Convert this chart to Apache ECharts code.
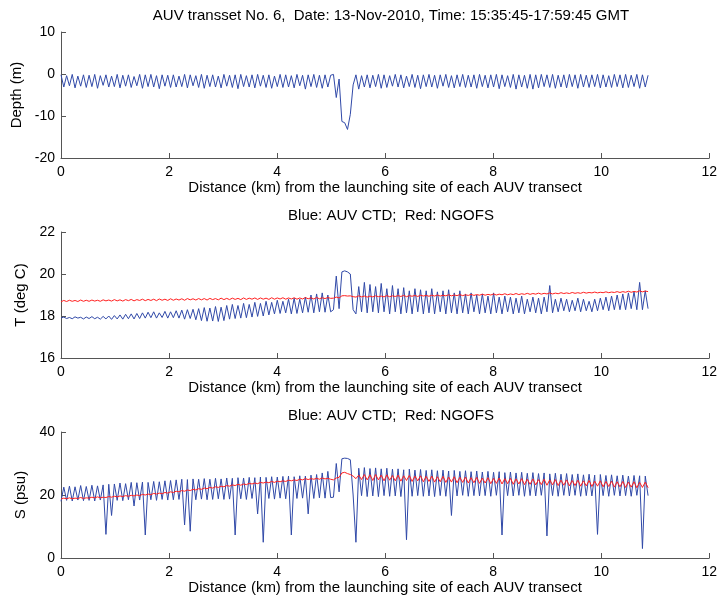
<!DOCTYPE html>
<html><head><meta charset="utf-8">
<script src="https://cdn.jsdelivr.net/npm/echarts@6/dist/echarts.min.js"></script>
<style>html,body{margin:0;padding:0;background:#fff}#c{width:720px;height:598px}</style>
</head><body><div id="c"></div>
<script>
// Turning-point distances along the transect (km)
const dist = [
0,.052,.104,.156,.208,.26,.312,.364,.416,.468,
.52,.572,.624,.676,.728,.78,.832,.884,.936,.988,
1.04,1.092,1.144,1.196,1.248,1.3,1.352,1.404,1.456,1.508,
1.56,1.612,1.664,1.716,1.768,1.82,1.872,1.924,1.976,2.028,
2.08,2.132,2.184,2.236,2.288,2.34,2.392,2.444,2.496,2.548,
2.6,2.652,2.704,2.756,2.808,2.86,2.912,2.964,3.016,3.068,
3.12,3.172,3.224,3.276,3.328,3.38,3.432,3.484,3.536,3.588,
3.64,3.692,3.744,3.796,3.848,3.9,3.952,4.004,4.056,4.108,
4.16,4.212,4.264,4.316,4.368,4.42,4.472,4.524,4.576,4.628,
4.68,4.732,4.784,4.836,4.888,4.94,4.992,5.044,5.096,5.148,
5.2,5.252,5.304,5.356,5.408,5.46,5.512,5.564,5.616,5.668,
5.72,5.772,5.824,5.876,5.928,5.98,6.032,6.084,6.136,6.188,
6.24,6.292,6.344,6.396,6.448,6.5,6.552,6.604,6.656,6.708,
6.76,6.812,6.864,6.916,6.968,7.02,7.072,7.124,7.176,7.228,
7.28,7.332,7.384,7.436,7.488,7.54,7.592,7.644,7.696,7.748,
7.8,7.852,7.904,7.956,8.008,8.06,8.112,8.164,8.216,8.268,
8.32,8.372,8.424,8.476,8.528,8.58,8.632,8.684,8.736,8.788,
8.84,8.892,8.944,8.996,9.048,9.1,9.152,9.204,9.256,9.308,
9.36,9.412,9.464,9.516,9.568,9.62,9.672,9.724,9.776,9.828,
9.88,9.932,9.984,10.036,10.088,10.14,10.192,10.244,10.296,10.348,
10.4,10.452,10.504,10.556,10.608,10.66,10.712,10.764,10.816,10.868];

// AUV depth (m)
const depth = [
-0.2,-3.1,-0.4,-2.8,-0.1,-3.3,-0.5,-2.9,-0.2,-3.2,
-0.3,-3.0,-0.1,-3.4,-0.4,-2.7,-0.2,-3.1,-0.5,-3.0,
-0.1,-3.3,-0.3,-2.9,-0.2,-3.2,-0.6,-2.8,-0.1,-3.4,
-0.2,-3.0,-0.1,-3.1,-0.4,-3.5,-0.2,-2.9,-0.3,-3.2,
-0.2,-3.1,-0.5,-3.0,-0.1,-3.3,-0.2,-2.8,-0.4,-3.2,
-0.1,-3.4,-0.3,-3.0,-0.2,-3.1,-0.5,-3.3,-0.1,-2.9,
-0.3,-3.2,-0.2,-3.5,-0.1,-3.0,-0.4,-3.1,-0.2,-3.3,
-0.1,-2.9,-0.3,-3.2,-0.2,-3.4,-0.5,-3.0,-0.1,-3.2,
-0.2,-3.1,-0.4,-3.3,-0.1,-2.8,-0.3,-3.6,-0.2,-3.0,
-0.1,-3.2,-0.3,-3.4,-0.2,-3.1,-0.3,-0.1,-5.6,-1.2,
-11.3,-11.6,-13.2,-9.6,-2.6,-0.2,-3.6,-0.4,-3.1,-0.2,
-3.3,-0.3,-3.0,-0.1,-3.4,-0.2,-3.2,-0.4,-2.9,-0.1,
-3.1,-0.2,-3.3,-0.5,-3.0,-0.1,-3.2,-0.3,-3.5,-0.2,
-3.0,-0.1,-3.1,-0.3,-3.4,-0.2,-2.9,-0.1,-3.2,-0.4,
-3.3,-0.2,-3.0,-0.1,-3.2,-0.3,-3.1,-0.2,-3.4,-0.1,
-3.0,-0.3,-3.3,-0.2,-3.1,-0.1,-3.5,-0.2,-3.0,-0.4,
-3.2,-0.1,-3.6,-0.2,-3.1,-0.3,-3.4,-0.1,-3.6,-0.2,
-3.3,-0.1,-3.0,-0.2,-3.2,-0.1,-3.4,-0.3,-3.1,-0.2,
-3.3,-0.1,-3.0,-0.2,-3.4,-0.1,-3.1,-0.3,-3.2,-0.2,
-3.0,-0.1,-3.3,-0.2,-3.1,-0.4,-3.2,-0.1,-3.0,-0.2,
-3.3,-0.1,-3.2,-0.3,-3.0,-0.1,-3.4,-0.2,-3.1,-0.3];

// Temperature, AUV CTD (deg C)
const tempAUV = [
17.9,17.95,17.88,17.93,17.87,17.96,17.9,17.94,17.86,17.95,
17.88,17.97,17.87,17.94,17.85,17.98,17.86,18.0,17.84,18.02,
17.86,18.05,17.85,18.08,17.87,18.1,17.86,18.12,17.88,18.15,
17.9,18.18,17.92,18.2,17.9,18.15,17.93,18.22,17.9,18.2,
17.92,18.25,17.9,18.28,17.85,18.3,17.88,18.32,17.82,18.35,
17.78,18.4,17.75,18.38,17.76,18.45,17.74,18.42,17.78,18.5,
17.85,18.55,17.88,18.5,17.9,18.6,17.92,18.55,17.95,18.65,
17.98,18.6,18.0,18.7,18.05,18.65,18.1,18.75,18.12,18.7,
18.15,18.8,18.1,18.85,18.12,18.8,18.15,18.9,18.18,19.0,
18.15,19.05,18.2,19.1,18.18,19.0,18.2,18.3,19.9,18.35,
20.1,20.15,20.1,20.0,18.3,18.1,19.4,18.2,19.6,18.15,
19.5,18.2,19.4,18.15,19.55,18.2,19.3,18.1,19.45,18.2,
19.3,18.1,19.35,18.15,19.2,18.1,19.3,18.2,19.25,18.1,
19.2,18.15,19.3,18.1,19.15,18.2,19.2,18.1,19.25,18.15,
19.1,18.1,19.2,18.15,19.05,18.1,19.1,18.2,19.0,18.1,
19.05,18.15,18.95,18.1,19.1,18.15,18.9,18.1,18.95,18.2,
18.9,18.1,18.85,18.15,18.95,18.1,18.8,18.2,18.9,18.15,
18.85,18.1,18.9,18.2,19.45,18.15,18.8,18.2,18.85,18.25,
18.8,18.2,18.75,18.25,18.85,18.2,18.8,18.25,18.7,18.2,
18.8,18.25,18.85,18.3,18.9,18.25,18.95,18.3,19.0,18.3,
19.05,18.3,19.1,18.35,19.15,18.3,19.6,18.3,19.2,18.35];

// Temperature, NGOFS model (deg C)
const tempNGOFS = [
18.68,18.74,18.69,18.75,18.7,18.74,18.69,18.76,18.7,18.75,
18.7,18.76,18.71,18.75,18.7,18.77,18.72,18.76,18.71,18.78,
18.72,18.77,18.71,18.78,18.73,18.79,18.72,18.78,18.74,18.8,
18.73,18.79,18.74,18.8,18.73,18.81,18.75,18.8,18.74,18.82,
18.75,18.81,18.76,18.82,18.75,18.83,18.77,18.82,18.76,18.83,
18.77,18.83,18.76,18.84,18.78,18.83,18.77,18.85,18.78,18.84,
18.78,18.85,18.79,18.84,18.78,18.86,18.79,18.85,18.8,18.86,
18.79,18.86,18.8,18.85,18.79,18.87,18.8,18.86,18.81,18.87,
18.8,18.86,18.81,18.87,18.8,18.86,18.81,18.88,18.82,18.87,
18.81,18.88,18.82,18.87,18.83,18.88,18.84,18.85,18.9,18.86,
18.96,18.97,18.95,18.96,18.92,18.9,18.96,18.91,18.95,18.9,
18.95,18.91,18.96,18.92,18.95,18.91,18.97,18.92,18.96,18.93,
18.97,18.93,18.98,18.92,18.97,18.94,18.98,18.93,18.99,18.95,
18.98,18.94,18.99,18.95,19.0,18.95,18.99,18.96,19.01,18.96,
19.0,18.97,19.02,18.97,19.01,18.98,19.03,18.98,19.02,18.99,
19.04,18.99,19.03,19.0,19.05,19.0,19.04,19.01,19.06,19.01,
19.05,19.02,19.07,19.02,19.06,19.03,19.08,19.03,19.07,19.04,
19.09,19.04,19.08,19.05,19.1,19.05,19.09,19.06,19.11,19.07,
19.1,19.07,19.12,19.08,19.11,19.08,19.13,19.09,19.12,19.1,
19.14,19.1,19.13,19.11,19.15,19.11,19.14,19.12,19.16,19.12,
19.16,19.13,19.18,19.13,19.17,19.14,19.2,19.15,19.19,19.16];

// Salinity, AUV CTD (psu)
const salAUV = [
18.0,22.5,18.3,22.8,18.1,22.6,18.4,23.0,18.2,22.7,
18.3,23.1,18.1,22.9,18.4,23.2,7.5,23.4,13.5,23.5,
18.3,23.8,18.2,23.6,18.5,24.0,16.5,23.9,18.4,24.1,
7.3,24.0,18.5,24.3,18.3,24.2,18.6,24.5,18.4,24.6,
18.5,24.8,18.6,25.0,10.5,24.9,8.5,25.1,18.5,25.0,
18.7,25.2,18.5,25.0,18.6,25.3,18.8,25.1,18.6,25.4,
18.7,25.3,7.3,25.5,18.8,25.4,18.6,25.6,18.9,25.5,
14.0,25.7,5.0,25.6,18.9,25.8,18.7,25.7,19.0,25.9,
18.8,26.0,7.3,25.8,18.9,26.1,19.0,26.0,14.0,26.3,
18.9,26.5,19.1,27.0,19.0,27.5,19.2,19.3,30.0,21.0,
31.5,31.7,31.6,31.2,20.0,5.0,28.5,19.8,28.7,19.5,
28.4,19.7,28.6,19.5,28.3,19.8,28.5,19.6,28.2,19.7,
28.3,19.5,28.0,5.8,28.2,19.6,27.9,19.8,28.1,19.6,
27.8,19.7,28.0,19.5,27.7,19.8,27.9,19.6,27.6,13.5,
27.8,19.7,27.5,19.9,27.7,19.6,27.4,19.8,27.6,19.7,
27.3,19.8,27.5,19.6,27.2,19.9,27.4,7.3,27.1,19.8,
27.3,19.7,27.0,19.9,27.2,19.6,26.9,19.8,27.1,19.7,
26.8,19.9,27.0,7.0,26.7,19.8,26.9,19.6,26.6,19.9,
26.8,19.7,26.5,19.9,26.7,19.6,26.4,19.8,26.6,19.7,
26.3,7.5,26.5,19.8,26.2,19.6,26.4,19.9,26.1,19.7,
26.3,19.8,26.0,19.6,26.2,19.9,26.1,3.0,26.0,19.8];

// Salinity, NGOFS model (psu)
const salNGOFS = [
18.7,19.0,18.8,19.1,18.8,19.0,18.9,19.2,18.9,19.1,
19.0,19.3,19.1,19.4,19.1,19.3,19.2,19.5,19.3,19.6,
19.4,19.7,19.5,19.8,19.6,19.9,19.7,20.0,19.8,20.2,
20.0,20.3,20.1,20.5,20.3,20.6,20.4,20.8,20.6,21.0,
20.8,21.2,21.0,21.4,21.2,21.6,21.4,21.8,21.6,22.0,
21.8,22.2,22.0,22.4,22.2,22.6,22.4,22.8,22.6,23.0,
22.8,23.2,23.0,23.4,23.1,23.5,23.3,23.7,23.5,23.8,
23.6,24.0,23.8,24.1,23.9,24.3,24.0,24.4,24.2,24.5,
24.3,24.7,24.5,24.8,24.6,25.0,24.8,25.2,24.9,25.2,
25.0,25.3,25.0,25.4,25.1,25.3,25.0,24.8,25.4,25.6,
27.0,27.2,26.8,26.5,26.0,25.2,26.3,24.9,26.5,24.8,
26.4,24.6,26.5,24.8,26.3,24.5,26.4,24.7,26.2,24.5,
26.3,24.4,26.1,24.6,26.2,24.3,26.0,24.5,26.1,24.2,
25.9,24.3,26.0,24.1,25.8,24.2,25.9,24.0,25.7,24.1,
25.8,23.9,25.6,24.0,25.7,23.8,25.5,23.9,25.6,23.7,
25.4,23.8,25.5,23.6,25.3,23.7,25.4,23.5,25.2,23.6,
25.3,23.4,25.1,23.5,25.2,23.3,25.0,23.4,25.1,23.2,
24.9,23.3,25.0,23.1,24.8,23.2,24.9,23.0,24.7,23.1,
24.8,22.9,24.6,23.0,24.7,22.8,24.5,22.9,24.6,22.7,
24.4,22.8,24.5,22.6,24.3,22.7,24.4,22.5,24.2,22.6,
24.3,22.4,24.1,22.5,24.2,22.3,24.0,22.4,24.1,22.3];

const xTicks = [0, 2, 4, 6, 8, 10, 12];
const titles = ['AUV transset No. 6,  Date: 13-Nov-2010, Time: 15:35:45-17:59:45 GMT',
                'Blue: AUV CTD;  Red: NGOFS', 'Blue: AUV CTD;  Red: NGOFS'];
const yNames = ['Depth (m)', 'T (deg C)', 'S (psu)'];
const yRanges = [[-20, 10, 10], [16, 22, 2], [0, 40, 20]];
const xName = 'Distance (km) from the launching site of each AUV transect';

const pairs = arr => dist.map((d, i) => [d, arr[i]]);
const FONT = '"Liberation Sans", Arial, Helvetica, sans-serif';
const BLUE = '#3049a8', RED = '#ff2020', AX = '#555';
const tops = [32, 232, 432], titleY = [3, 203, 403];

const chart = echarts.init(document.getElementById('c'), null, {renderer: 'canvas'});
const opt = {
  animation: false,
  backgroundColor: '#fff',
  title: titles.map((t, i) => ({text: t, left: 386, top: titleY[i], textAlign: 'center',
    textStyle: {fontFamily: FONT, fontSize: 15, fontWeight: 'normal', color: '#000'}})),
  grid: tops.map(t => ({left: 61, width: 649, top: t, height: 126})),
  xAxis: tops.map((t, i) => ({gridIndex: i, type: 'value', min: xTicks[0], max: xTicks[xTicks.length-1], interval: 2,
    name: xName, nameLocation: 'middle', nameGap: 22,
    nameTextStyle: {fontFamily: FONT, fontSize: 15, color: '#000'},
    axisLine: {show: true, onZero: false, lineStyle: {color: AX, width: 1}},
    axisTick: {show: true, inside: true, length: 5, lineStyle: {color: AX}},
    axisLabel: {fontFamily: FONT, fontSize: 14, color: '#000', margin: 7},
    splitLine: {show: false}})),
  yAxis: yRanges.map((r, i) => ({gridIndex: i, type: 'value', min: r[0], max: r[1], interval: r[2],
    name: yNames[i], nameLocation: 'middle', nameGap: 33, nameRotate: 90,
    nameTextStyle: {fontFamily: FONT, fontSize: 15, color: '#000'},
    axisLine: {show: true, onZero: false, lineStyle: {color: AX, width: 1}},
    axisTick: {show: true, inside: true, length: 5, lineStyle: {color: AX}},
    axisLabel: {fontFamily: FONT, fontSize: 14, color: '#000', margin: 6},
    splitLine: {show: false}})),
  series: [
    {type: 'line', xAxisIndex: 0, yAxisIndex: 0, data: pairs(depth), showSymbol: false, lineStyle: {color: BLUE, width: 1}},
    {type: 'line', xAxisIndex: 1, yAxisIndex: 1, data: pairs(tempAUV), showSymbol: false, lineStyle: {color: BLUE, width: 1}},
    {type: 'line', xAxisIndex: 1, yAxisIndex: 1, data: pairs(tempNGOFS), showSymbol: false, lineStyle: {color: RED, width: 1}},
    {type: 'line', xAxisIndex: 2, yAxisIndex: 2, data: pairs(salAUV), showSymbol: false, lineStyle: {color: BLUE, width: 1}},
    {type: 'line', xAxisIndex: 2, yAxisIndex: 2, data: pairs(salNGOFS), showSymbol: false, lineStyle: {color: RED, width: 1}}
  ]
};
chart.setOption(opt);
</script></body></html>
